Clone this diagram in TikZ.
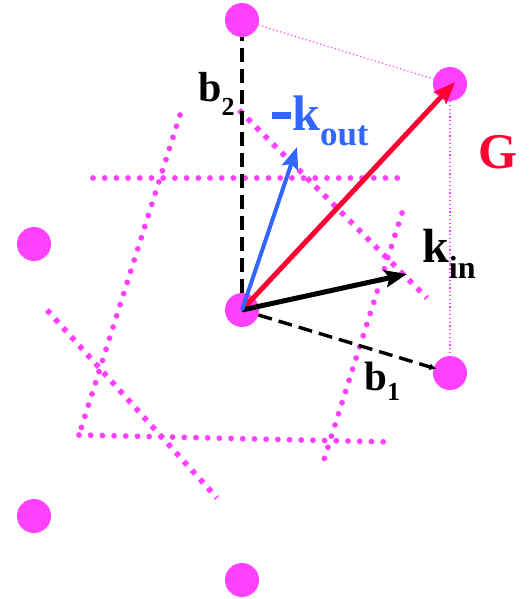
\documentclass[tikz,border=0pt]{standalone}
\usepackage{fontspec}
\setmainfont{Liberation Serif}
\usetikzlibrary{arrows.meta}
\definecolor{latmag}{HTML}{FF40FF}
\definecolor{kblue}{HTML}{3366FF}
\definecolor{gred}{HTML}{FF0033}
\newcommand{\subtxt}[3]{\raisebox{-#1pt}{\fontsize{#2}{#2}\selectfont #3}}
\tikzset{
  site/.style={circle, fill=latmag, minimum size=34pt, inner sep=0pt},
  bzrnd/.style={draw=latmag, line width=5.8pt, line cap=round, dash pattern=on 0pt off 11.7pt},
  bzsq/.style={draw=latmag, line width=5.5pt, dash pattern=on 5pt off 7pt},
  cell/.style={draw=latmag, line width=1.2pt, dash pattern=on 1.2pt off 2.6pt},
  basis/.style={draw=black, line width=3.4pt, dash pattern=on 14pt off 7pt},
  vec/.style={line width=5pt, -{Stealth[length=22pt,width=17pt,inset=4pt]}},
  lbl/.style={anchor=base west, inner sep=0pt},
}
\begin{document}
\begin{tikzpicture}[x=1pt, y=-1pt]
    \useasboundingbox (0,0) rectangle (529,599);
    % zone boundaries
    \draw[bzrnd] (93,178) -- (407,178);
    \draw[bzrnd] (79,435) -- (391,442);
    \draw[bzrnd] (180,115) -- (79,435);
    \draw[bzrnd] (402,213) -- (322,466);
    \draw[bzsq] (239,110) -- (427,298);
    \draw[bzsq] (47,310) -- (217,498);
    % lattice sites
    \foreach \nm/\px/\py in {st/242/20, sur/450/84, so/242/310, sr/450/373, sl/34/244, sbl/34/516, sb/242/580}
      \node[site] (\nm) at (\px,\py) {};
    \draw[basis] (so) -- (st);
    \draw[basis, -{Latex[length=7pt,width=7pt]}, shorten >=-3pt] (so) -- (sr);
    \coordinate (gtip) at (455,82);
    \coordinate (kintip) at (407,274);
    \coordinate (kouttip) at (297,147);
    \draw[vec, gred] (so.center) -- (gtip);
    \draw[vec, black] (so.center) -- (kintip);
    \draw[vec, kblue, line width=4pt] (so.center) -- (kouttip);
    % labels
    \node[lbl, font=\fontsize{42}{42}\selectfont\bfseries] (lb2) at (198,102) {b\subtxt{14}{26}{2}};
    \node[lbl, font=\fontsize{41}{41}\selectfont\bfseries] (lb1) at (364,390) {b\subtxt{10}{26}{1}};
    \node[lbl, font=\fontsize{50}{50}\selectfont\bfseries, text=kblue] (lkout) at (272,130) {\rule[11pt]{19pt}{7pt}\hspace{1pt}k\subtxt{15}{35}{out}};
    \node[lbl, font=\fontsize{48}{48}\selectfont\bfseries] (lkin) at (422,262) {k\subtxt{16}{32}{in}};
    \node[lbl, font=\fontsize{50}{50}\selectfont\bfseries, text=gred] (lg) at (478,168) {G};
    \draw[cell] (st) -- (sur);
    \draw[cell] (sur) -- (sr);
  \end{tikzpicture}
\end{document}
